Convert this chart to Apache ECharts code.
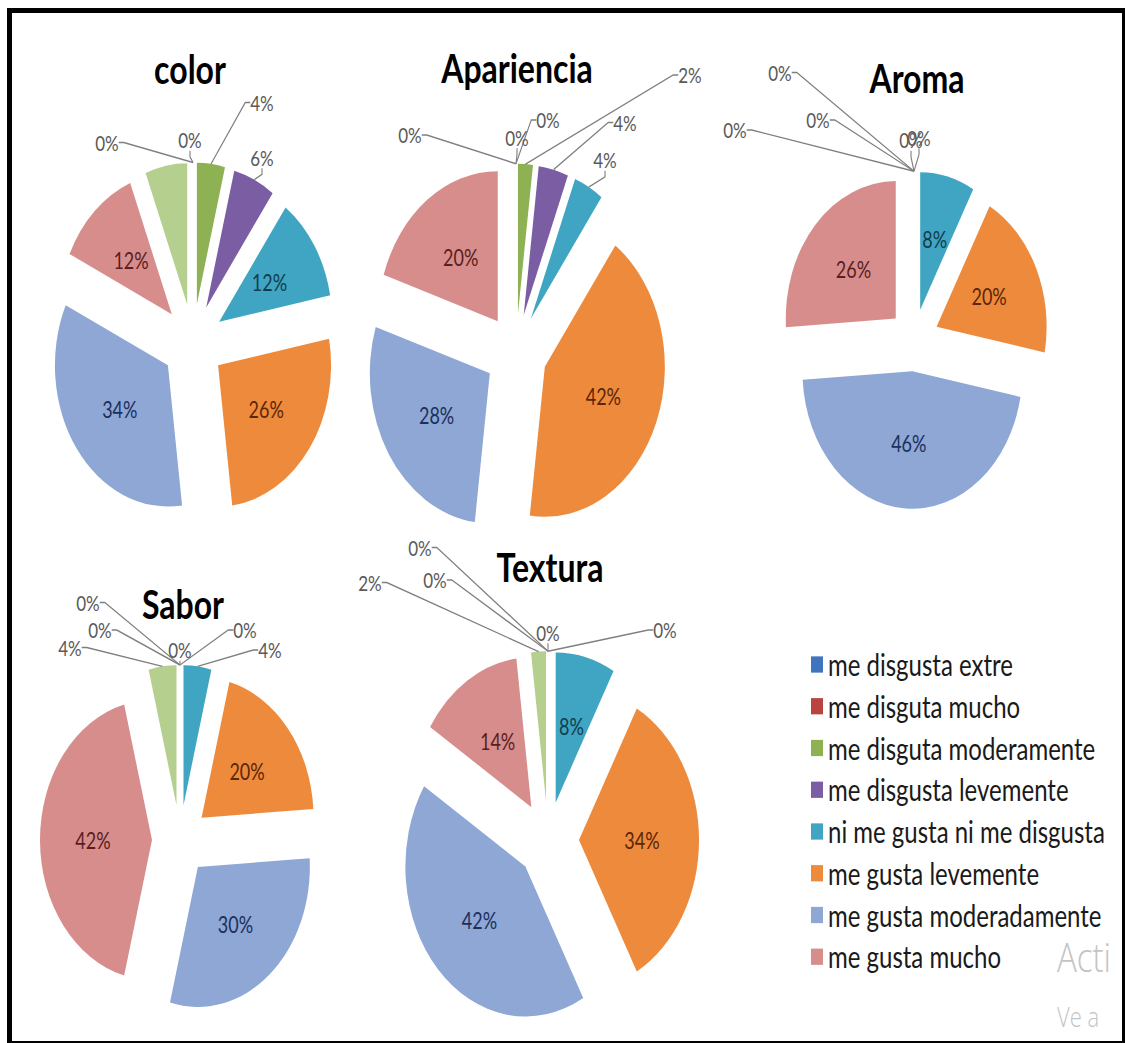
<!DOCTYPE html>
<html>
<head>
<meta charset="utf-8">
<script src="https://cdn.jsdelivr.net/npm/echarts@6/dist/echarts.min.js"></script>
<style>
  html, body { margin: 0; padding: 0; background: #fff; width: 1125px; height: 1043px; overflow: hidden; }
  #wrap { position: absolute; left: 0; top: 0; width: 1125px; height: 1043px; overflow: hidden; background: #fff; }
  /* the drawing is laid out on a flatter canvas and stretched vertically */
  #chart { position: absolute; left: 0; top: 0; width: 1125px; height: 834.4px; transform: scaleY(1.25); transform-origin: 0 0; }
  #frame { position: absolute; left: 7px; top: 8px; width: 1110px; height: 1028px; border: 5px solid #000; pointer-events: none; }
</style>
</head>
<body>
<div id="wrap">
  <div id="chart"></div>
  <div id="frame"></div>
</div>
<script>
// Rating categories (the last one has no legend entry)
const categories = [
  'me disgusta extre',
  'me disguta mucho',
  'me disguta moderamente',
  'me disgusta levemente',
  'ni me gusta ni me disgusta',
  'me gusta levemente',
  'me gusta moderadamente',
  'me gusta mucho',
  'me gusta extremadamente'
];
const legendNames = categories.slice(0, 8);

// Percentage of panelists per category, one list per attribute
const colorVals      = [0, 0, 4, 6, 12, 26, 34, 12, 6];
const aparienciaVals = [0, 0, 2, 4, 4, 42, 28, 20, 0];
const aromaVals      = [0, 0, 0, 0, 8, 20, 46, 26, 0];
const saborVals      = [0, 0, 0, 0, 4, 20, 30, 42, 4];
const texturaVals    = [0, 0, 0, 0, 8, 34, 42, 14, 2];

const titles = ['color', 'Apariencia', 'Aroma', 'Sabor', 'Textura'];

// Styling
const FONT = 'Lato, "Open Sans", "Liberation Sans", sans-serif';
const palette = ['#3F74BF', '#B9433F', '#8DB153', '#7A5DA3', '#3FA5C2', '#EE8A3C', '#8EA7D5', '#D78D8C', '#B5CF8E'];
const labelInk = ['#1b2f55', '#4a1616', '#2f4415', '#2c1f44', '#133d4e', '#5a2708', '#1d2f5c', '#5a1e1e', '#34501a'];

// Layout of each pie (px on the unstretched canvas).
// callouts: category index -> label position relative to the top of the exploded pie
const pies = [
  { title: titles[0], values: colorVals, center: [193, 274], radius: 113, offset: 31, titleAt: [190, 55],
    callouts: { 0: [-86, -16], 1: [-3, -18], 2: [69, -48], 3: [69, -4] } },
  { title: titles[1], values: aparienciaVals, center: [516, 282], radius: 120, offset: 31, titleAt: [517, 54],
    callouts: { 8: [-106, -23], 0: [1, -21], 1: [32, -35], 2: [174, -71], 3: [109, -33], 4: [89, -3] } },
  { title: titles[2], values: aromaVals, center: [914, 272], radius: 110, offset: 25, titleAt: [917, 62],
    callouts: { 0: [-3, -25], 1: [5, -27], 2: [-96, -41], 3: [-134, -79], 8: [-179, -33] } },
  { title: titles[3], values: saborVals, center: [180, 672], radius: 112, offset: 28, titleAt: [183, 483],
    callouts: { 8: [-110, -14], 3: [-92, -50], 2: [-80, -28], 0: [0, -12], 1: [65, -28], 4: [90, -12] } },
  { title: titles[4], values: texturaVals, center: [548, 672], radius: 120, offset: 31, titleAt: [550, 453],
    callouts: { 8: [-178, -55], 3: [-128, -83], 2: [-113, -57], 0: [0, -15], 1: [117, -17] } }
];

// Exploded slices with the labels that sit inside them
const sliceSeries = pies.map(p => ({
  type: 'pie',
  name: p.title,
  center: p.center,
  radius: p.radius,
  startAngle: 90,
  clockwise: true,
  selectedMode: 'multiple',
  selectedOffset: p.offset,
  avoidLabelOverlap: false,
  label: { show: true, position: 'inside', formatter: '{c}%', fontFamily: FONT, fontSize: 18 },
  labelLine: { show: false },
  emphasis: { disabled: true },
  data: p.values.map((v, i) => ({
    name: categories[i],
    value: v,
    selected: true,
    itemStyle: { color: palette[i] },
    label: p.callouts[i] != null ? { show: false } : { color: labelInk[i] }
  }))
}));

// Transparent pie covering the exploded outline; carries the call-out labels and leader lines
const calloutSeries = pies.map(p => ({
  type: 'pie',
  name: p.title + ' (rótulos)',
  center: p.center,
  radius: p.radius + p.offset,
  startAngle: 90,
  clockwise: true,
  silent: true,
  z: 3,
  avoidLabelOverlap: false,
  minShowLabelAngle: 0,
  itemStyle: { color: 'rgba(0,0,0,0)', borderWidth: 0 },
  emphasis: { disabled: true },
  label: { show: false },
  labelLine: { show: false },
  labelLayout: params => {
    const rel = p.callouts[params.dataIndex];
    if (!rel) return {};
    return {
      x: p.center[0] + rel[0],
      y: p.center[1] - p.radius - p.offset + rel[1],
      align: 'center',
      verticalAlign: 'middle'
    };
  },
  data: p.values.map((v, i) => {
    const out = p.callouts[i] != null;
    return {
      name: categories[i],
      value: v,
      itemStyle: { color: 'rgba(0,0,0,0)' },
      label: out
        ? { show: true, position: 'outside', formatter: '{c}%', fontFamily: FONT, fontSize: 17, color: '#5a5a5a' }
        : { show: false },
      labelLine: out
        ? { show: true, length: 10, length2: 5, lineStyle: { color: '#7f7f7f', width: 1.1 } }
        : { show: false }
    };
  })
}));

const chart = echarts.init(document.getElementById('chart'), null, { renderer: 'svg' });

chart.setOption({
  backgroundColor: '#fff',
  animation: false,
  color: palette,
  title: pies.map(p => ({
    text: p.title,
    left: p.titleAt[0],
    top: p.titleAt[1],
    textAlign: 'center',
    textVerticalAlign: 'middle',
    padding: 0,
    textStyle: { fontFamily: FONT, fontWeight: 'bold', fontSize: 32, color: '#000' }
  })),
  legend: {
    data: legendNames,
    orient: 'vertical',
    left: 806,
    top: 514.6,
    icon: 'rect',
    itemWidth: 12,
    itemHeight: 13,
    itemGap: 9.4,
    selectedMode: false,
    textStyle: { fontFamily: FONT, fontSize: 24, color: '#1a1a1a', lineHeight: 24 }
  },
  graphic: [
    { type: 'text', x: 1057, y: 779, silent: true,
      style: { text: 'Acti', fontFamily: '"Open Sans", sans-serif', fontWeight: 300, fontSize: 33, lineHeight: 28,
               fill: '#c4c4c4', textVerticalAlign: 'bottom' } },
    { type: 'text', x: 1057, y: 824, silent: true,
      style: { text: 'Ve a', fontFamily: '"Open Sans", sans-serif', fontWeight: 300, fontSize: 22,
               fill: '#c4c4c4', textVerticalAlign: 'bottom' } }
  ],
  series: sliceSeries.concat(calloutSeries)
});
</script>
</body>
</html>
